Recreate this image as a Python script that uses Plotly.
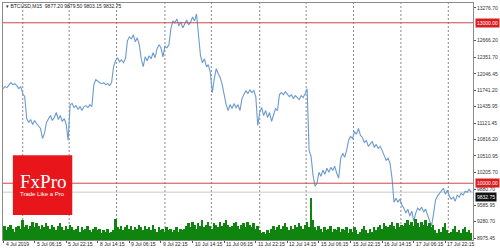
import plotly.graph_objects as go

# ---------------- data ----------------
title_text = "\u25be BTCUSD,M15  9877.20 9879.50 9803.15 9832.75"

# BTCUSD close, one value per trading hour (M15 chart)
price = [
    11768, 11806, 11787, 11843, 11880, 11843, 11862, 11824, 11768, 11806,
    11675, 11620, 11210, 11135, 11191, 11098, 11173, 11117, 11061, 11024,
    10837, 10931, 11135, 11210, 11266, 11173, 11228, 11322, 11191, 11266,
    11154, 11210, 11098, 10800, 11470, 11489, 11415, 11452, 11377, 11433,
    11359, 11433, 11452, 11415, 11470, 11433, 11843, 11936, 11899, 11880,
    11862, 11880, 11843, 11862, 11824, 11880, 12178, 12290, 12346, 12271,
    12308, 12253, 12327, 12662, 12737, 12699, 12774, 12644, 12718, 12588,
    12327, 12178, 12364, 12290, 12383, 12327, 12439, 12346, 12513, 12588,
    12532, 12364, 12569, 12532, 12588, 12886, 13035, 12997, 13072, 12941,
    13016, 12904, 12979, 13053, 12960, 13016, 13109, 13035, 13165, 12811,
    12383, 12253, 12327, 12178, 12215, 12066, 11694, 11955, 12141, 12048,
    11973, 11843, 11620, 11470, 11359, 11470, 11396, 11489, 11415, 11470,
    11359, 11582, 11657, 11731, 11675, 11750, 11694, 11731, 11620, 11080,
    11322, 11415, 11266, 11359, 11228, 11322, 11154, 11303, 11396, 11359,
    11657, 11694, 11657, 11713, 11675, 11620, 11657, 11582, 11638, 11601,
    11564, 11638, 11601, 11675, 11768, 10614, 10502, 10148, 9944, 9999,
    10204, 10130, 10242, 10167, 10279, 10204, 10297, 10242, 10316, 10186,
    10093, 10465, 10558, 10484, 10614, 10800, 10875, 10837, 10968, 10912,
    11024, 10893, 10856, 10763, 10800, 10689, 10744, 10782, 10670, 10726,
    10651, 10689, 10614, 10502, 10428, 10465, 10372, 10093, 9646, 9720,
    9646, 9702, 9590, 9534, 9441, 9515, 9385, 9478, 9292, 9441,
    9534, 9497, 9553, 9460, 9515, 9404, 9292, 9199, 9422, 9683,
    9758, 9813, 9869, 9906, 9795, 9869, 9758, 9702, 9739, 9664,
    9776, 9739, 9813, 9776, 9851, 9832, 9888, 9833,
]

# tick volume per trading hour
volume = [
    80, 100, 70, 90, 110, 80, 60, 90, 100, 80,
    140, 90, 110, 80, 100,
    130, 90, 120, 100, 80, 110, 90, 120, 100, 80, 110, 90, 70, 100, 120,
    90, 70, 100, 80, 110, 90, 70, 80, 100, 60, 90, 70, 80, 100, 70, 60, 80, 90, 70, 80,
    50, 70, 60, 80, 50, 60, 70,
    150, 90, 80,
    100, 70, 90, 110, 80, 100, 70, 90, 80, 110, 90, 70, 100, 80, 90, 70, 110, 80, 60, 90,
    70, 80, 60, 90, 70, 80, 60, 70, 90, 60, 80, 70, 80,
    100, 120, 90, 130, 110, 80, 120, 100, 140, 90, 110, 130, 100, 80, 120, 110,
    90, 130, 100, 120, 140, 110, 90, 100, 120, 130, 100, 80, 110, 120, 90, 130,
    110, 90, 120, 80, 100, 70, 50, 60, 40, 70, 50, 80, 100, 70, 90, 110, 80, 100, 120, 90,
    70, 100, 80, 110, 90, 120, 100, 80, 110, 130, 90,
    300, 140,
    90, 70, 100, 80, 60, 90, 70, 80, 100, 60, 80, 70, 90, 60, 80, 70, 90,
    50, 80, 60, 90, 70, 40, 60, 80, 100, 70, 50, 80, 60, 90, 70,
    90, 110, 80, 120, 100, 90, 110, 130, 100, 80, 120, 90, 110, 100, 120,
    140, 110, 130, 100, 150, 120, 90, 130, 110, 140, 100, 120, 90, 110,
    70, 50, 80, 60, 90, 120, 70, 50, 60, 80, 100, 60, 70, 50, 80, 90, 60, 70, 50,
]

time_labels = ["4 Jul 2019", "5 Jul 06:15", "5 Jul 22:15", "8 Jul 14:15", "9 Jul 06:15",
               "9 Jul 22:15", "10 Jul 14:15", "11 Jul 06:15", "11 Jul 22:15", "12 Jul 14:15",
               "15 Jul 06:15", "15 Jul 22:15", "16 Jul 14:15", "17 Jul 06:15", "17 Jul 22:15"]
time_label_hours = [1.5, 17.0, 33.0, 49.0, 65.0, 81.0, 97.0, 113.0, 129.0, 145.0,
                    161.0, 177.0, 193.0, 209.0, 225.0]
day_start_hours = [11, 34.5, 58.5, 83, 106.5, 131, 154.5, 178.5, 202.5, 226.5]

price_ticks = [13276.70, 12666.20, 12351.70, 12046.45, 11741.20, 11435.95, 11121.45,
               10816.20, 10510.95, 10205.70, 9880.70, 9585.95, 9280.70, 8975.45]
price_tick_text = ["13276.70", "12666.20", "12351.70", "12046.45", "11741.20", "11435.95",
                   "11121.45", "10816.20", "10510.95", "10205.70", "9880.70", "9585.95",
                   "9280.70", "8975.45"]
level_lines = [13000.00, 10000.00]
level_text = ["13000.00", "10000.00"]
bid_price = 9832.75
bid_text = "9832.75"

# ---------------- figure ----------------
W, H = 500, 250
L, R, T, B = 2, 23, 2, 10
pw, ph = W - L - R, H - T - B


def px_x(p):
    return (p - L) / pw


def px_y(p):
    return (H - B - p) / ph


hours_p = list(range(1, len(price) + 1))
hours_v = list(range(1, len(volume) + 1))

fig = go.Figure()
fig.add_trace(go.Bar(x=hours_v, y=volume, yaxis="y2", marker=dict(color="#0f850f", line=dict(width=0)),
                     hoverinfo="skip"))
fig.add_trace(go.Scatter(x=hours_p, y=price, mode="lines",
                         line=dict(color="#6a9bd0", width=1.1)))

shapes = []
for d in day_start_hours:
    shapes.append(dict(type="line", xref="x", yref="paper", x0=d, x1=d, y0=0, y1=1,
                       line=dict(color="#8a8a8a", width=1, dash="2px,2px"), layer="below"))
for lv in level_lines:
    shapes.append(dict(type="line", xref="paper", yref="y", x0=0, x1=1, y0=lv, y1=lv,
                       line=dict(color="#cc4a4a", width=1)))
shapes.append(dict(type="line", xref="paper", yref="y", x0=0, x1=1, y0=bid_price, y1=bid_price,
                   line=dict(color="#c8c8c8", width=1), layer="below"))
# FxPro logo box
shapes.append(dict(type="rect", xref="paper", yref="paper",
                   x0=px_x(12), x1=px_x(72), y0=px_y(215), y1=px_y(155),
                   fillcolor="#e8161b", line=dict(width=0), layer="above"))

annotations = []
annotations.append(dict(text=title_text, xref="paper", yref="paper", x=px_x(3), y=px_y(5),
                        xanchor="left", yanchor="middle", showarrow=False,
                        font=dict(family="Liberation Sans", size=5, color="#222")))
for lab, hx in zip(time_labels, time_label_hours):
    annotations.append(dict(text=lab, xref="x", yref="paper", x=hx, y=px_y(244.5),
                            xanchor="left", yanchor="middle", showarrow=False,
                            font=dict(family="Liberation Sans", size=5, color="#222")))
for lv, lt in zip(level_lines, level_text):
    annotations.append(dict(text=lt, xref="paper", yref="y", x=px_x(479), y=lv,
                            xanchor="left", yanchor="middle", showarrow=False,
                            bgcolor="#d81e1e", borderpad=1,
                            font=dict(family="Liberation Sans", size=5, color="white")))
annotations.append(dict(text=bid_text, xref="paper", yref="y", x=px_x(479), y=bid_price,
                        xanchor="left", yanchor="top", showarrow=False,
                        bgcolor="#111111", borderpad=1,
                        font=dict(family="Liberation Sans", size=5, color="white")))
annotations.append(dict(text="FxPro", xref="paper", yref="paper", x=px_x(42), y=px_y(181),
                        xanchor="center", yanchor="middle", showarrow=False,
                        font=dict(family="Liberation Serif", size=19, color="white")))
annotations.append(dict(text="Trade Like a Pro", xref="paper", yref="paper", x=px_x(42), y=px_y(194),
                        xanchor="center", yanchor="middle", showarrow=False,
                        font=dict(family="Liberation Sans", size=6, color="white")))

fig.update_layout(
    width=W, height=H,
    margin=dict(l=L, r=R, t=T, b=B, pad=0),
    paper_bgcolor="white", plot_bgcolor="white",
    showlegend=False, bargap=0,
    xaxis=dict(range=[1, 239], showgrid=False, zeroline=False, showticklabels=False,
               showline=True, linecolor="#8c8c8c", linewidth=1, mirror=True,
               tickvals=time_label_hours, ticks="outside", ticklen=2, tickcolor="#555"),
    yaxis=dict(range=[8938.2, 13369.8], side="right", showgrid=False, zeroline=False,
               tickvals=price_ticks, ticktext=price_tick_text, ticks="outside", ticklen=2,
               tickcolor="#555", tickfont=dict(family="Liberation Sans", size=5, color="#333"),
               showline=True, linecolor="#8c8c8c", linewidth=1, mirror=True),
    yaxis2=dict(range=[0, 1700], overlaying="y", visible=False),
    shapes=shapes, annotations=annotations,
)

fig.write_html("out.html")
